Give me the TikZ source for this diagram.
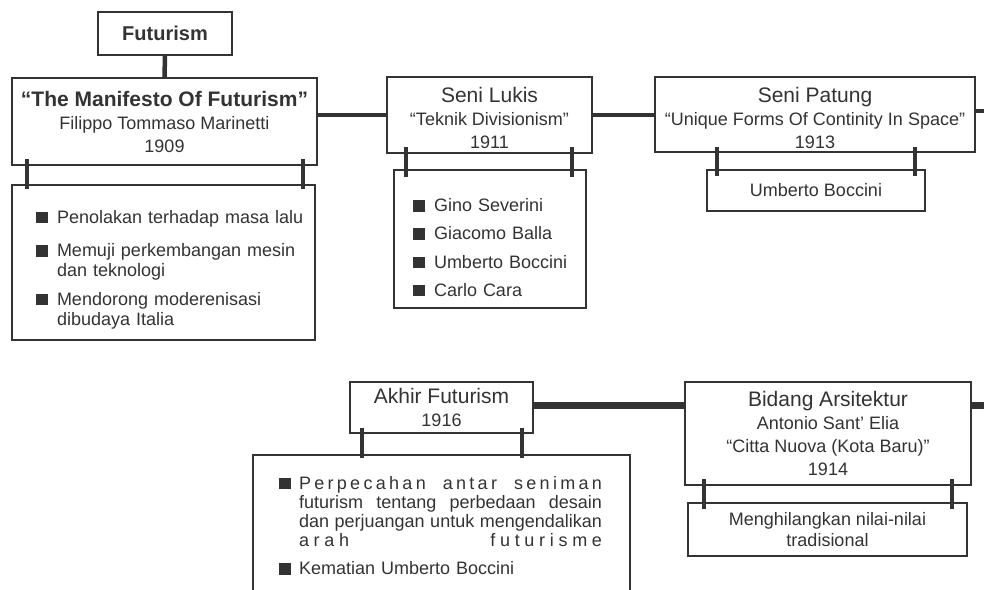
\documentclass[tikz,border=0pt]{standalone}
\usepackage{xcolor}
\usepackage{fontspec}
\setmainfont{Liberation Sans}
\usepackage{tikz}
\usetikzlibrary{calc}
\definecolor{ink}{HTML}{333333}
\newcommand\ttlfont{\fontsize{21}{24}\selectfont}
\newcommand\subfont{\fontsize{18}{23}\selectfont}
\newcommand\sqb{\textcolor{ink}{\rule{12pt}{11.5pt}}}

\begin{document}
\begin{tikzpicture}[x=1pt, y=1pt]
\tikzset{
  box/.style={rectangle,draw=ink,line width=2pt,fill=white,text=ink,align=center,inner sep=0pt,font=\subfont},
  pts/.style={box,align=left,font=\fontsize{18}{20}\selectfont},
  link/.style={draw=ink,line width=4.5pt},
  thick link/.style={draw=ink,line width=7pt},
  leg/.style={draw=ink,line width=4pt}
}
\clip (0,0) rectangle (984,-589);
\fill[white] (0,0) rectangle (984,-589);
% ---- top row
\node[box,minimum width=134,minimum height=43,font=\fontsize{20}{24}\selectfont\bfseries] (fut) at (165,-33.5) {Futurism};
\node[box,minimum width=305,minimum height=87] (man) at (164.5,-121.5)
  {{\fontsize{21}{24}\selectfont\bfseries “The Manifesto Of Futurism”}\\ Filippo Tommaso Marinetti\\ 1909};
\node[pts,text width=303,minimum height=155] (manpts) at (163.5,-262.5)
  {\hspace*{24pt}\begin{tabular}{@{}l@{\hspace{9pt}}l@{}}
   \rule{0pt}{29pt}\sqb & Penolakan terhadap masa lalu\\[13.5pt]
   \sqb & Memuji perkembangan mesin\\
        & dan teknologi\\[8.5pt]
   \sqb & Mendorong moderenisasi\\
        & dibudaya Italia
   \end{tabular}};
\node[box,minimum width=205,minimum height=76] (lukis) at (489.5,-115)
  {{\ttlfont\rule{0pt}{22pt}Seni Lukis}\\ “Teknik Divisionism”\\ 1911};
\node[pts,text width=192,minimum height=138] (lukispts) at (490,-239)
  {\hspace*{19pt}\begin{tabular}{@{}l@{\hspace{9pt}}l@{}}
   \rule{0pt}{36pt}\sqb & Gino Severini\\[8.3pt]
   \sqb & Giacomo Balla\\[8.3pt]
   \sqb & Umberto Boccini\\[8.3pt]
   \sqb & Carlo Cara
   \end{tabular}};
\node[box,minimum width=320,minimum height=75] (patung) at (815,-114.5)
  {{\ttlfont\rule{0pt}{22pt}Seni Patung}\\ “Unique Forms Of Continity In Space”\\ 1913};
\node[box,minimum width=218,minimum height=41] (patungpts) at (816,-190.5) {Umberto Boccini};
% ---- bottom row
\node[box,minimum width=183,minimum height=51] (akhir) at (441.5,-407.5)
  {{\ttlfont Akhir Futurism}\\ 1916};
\node[pts,text width=377,minimum height=146,font=\fontsize{18}{19}\selectfont] (akhirpts) at (441.5,-528)
  {\hspace*{26pt}\begin{tabular}{@{}l@{\hspace{8pt}}l@{}}
   \sqb & \makebox[303pt][s]{P\hspace{3.3pt}e\hspace{3.3pt}r\hspace{3.3pt}p\hspace{3.3pt}e\hspace{3.3pt}c\hspace{3.3pt}a\hspace{3.3pt}h\hspace{3.3pt}a\hspace{3.3pt}n\hfill a\hspace{3.3pt}n\hspace{3.3pt}t\hspace{3.3pt}a\hspace{3.3pt}r\hfill s\hspace{3.3pt}e\hspace{3.3pt}n\hspace{3.3pt}i\hspace{3.3pt}m\hspace{3.3pt}a\hspace{3.3pt}n}\\
        & \makebox[303pt][s]{futurism\hfill tentang\hfill perbedaan\hfill desain}\\
        & \makebox[303pt][s]{dan\hfill perjuangan\hfill untuk\hfill mengendalikan}\\
        & \makebox[303pt][s]{a\hspace{4.7pt}r\hspace{4.7pt}a\hspace{4.7pt}h\hfill f\hspace{4.7pt}u\hspace{4.7pt}t\hspace{4.7pt}u\hspace{4.7pt}r\hspace{4.7pt}i\hspace{4.7pt}s\hspace{4.7pt}m\hspace{4.7pt}e}\\[9.5pt]
   \sqb & Kematian Umberto Boccini
   \end{tabular}};
\node[box,minimum width=286,minimum height=103] (bidang) at (828,-433.5)
  {{\ttlfont Bidang Arsitektur}\\ Antonio Sant’ Elia\\ “Citta Nuova (Kota Baru)”\\ 1914};
\node[box,minimum width=279,minimum height=53,font=\fontsize{18}{21}\selectfont] (bidangpts) at (827.5,-529.5)
  {Menghilangkan nilai-nilai\\ tradisional};
\coordinate (edge1) at (984,-111);
\coordinate (edge2) at (984,-405);
% ---- links
\draw[link] (fut.south) -- (man.north);
\draw[link] (lukis.west -| man.east) -- (lukis.west);
\draw[link] (lukis.east) -- (lukis.east -| patung.west);
\draw[link] (edge1 -| patung.east) -- (edge1);
\draw[thick link] (edge2 -| akhir.east) -- (edge2 -| bidang.west);
\draw[thick link] (edge2 -| bidang.east) -- (edge2);
% ---- legs
\draw[leg] ($(man.south west)+(16,7)$) -- ($(man.south west |- manpts.north)+(16,-5)$);
\draw[leg] ($(man.south east)+(-15,7)$) -- ($(man.south east |- manpts.north)+(-15,-5)$);
\draw[leg] ($(lukis.south west)+(20,7)$) -- ($(lukis.south west |- lukispts.north)+(20,-8)$);
\draw[leg] ($(lukis.south east)+(-21,7)$) -- ($(lukis.south east |- lukispts.north)+(-21,-8)$);
\draw[leg] ($(patung.south west)+(63,6)$) -- ($(patung.south west |- patungpts.north)+(63,-7)$);
\draw[leg] ($(patung.south east)+(-61,6)$) -- ($(patung.south east |- patungpts.north)+(-61,-7)$);
\draw[leg] ($(akhir.south west)+(13,6)$) -- ($(akhir.south west |- akhirpts.north)+(13,-4)$);
\draw[leg] ($(akhir.south east)+(-12,6)$) -- ($(akhir.south east |- akhirpts.north)+(-12,-4)$);
\draw[leg] ($(bidang.south west)+(20,7)$) -- ($(bidang.south west |- bidangpts.north)+(20,-7)$);
\draw[leg] ($(bidang.south east)+(-20,7)$) -- ($(bidang.south east |- bidangpts.north)+(-20,-7)$);
\end{tikzpicture}
\end{document}
